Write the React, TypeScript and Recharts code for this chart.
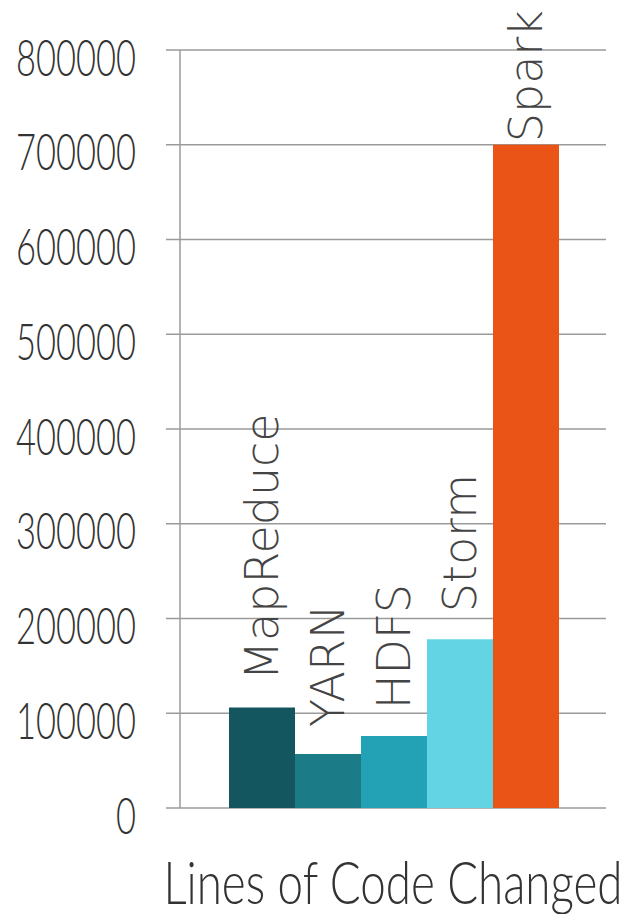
import { Bar, BarChart, CartesianGrid, LabelList, XAxis, YAxis } from 'recharts'

const categories = ['Lines of Code Changed']
const projects = ['MapReduce', 'YARN', 'HDFS', 'Storm', 'Spark']
const linesChanged = [106000, 57000, 76000, 178000, 700000]
const yTicks = [0, 100000, 200000, 300000, 400000, 500000, 600000, 700000, 800000]
const projectColors = ['#145660', '#1b7b87', '#22a2b4', '#62d4e4', '#eb5417']

const chartData = categories.map((category) => {
  const row: Record<string, string | number> = { category }
  projects.forEach((name, i) => {
    row[name] = linesChanged[i]
  })
  return row
})

const LABEL_FONT = "'DejaVu Sans', sans-serif"
const LABEL_SIZE = 46
const AXIS_FONT = 'Lato, sans-serif'

// canvas measure, used to keep the tall label inside the svg and to squeeze the axis title
function measure(text: string, font: string) {
  const ctx = document.createElement('canvas').getContext('2d')
  if (!ctx) return text.length * 30
  ctx.font = font
  return ctx.measureText(text).width
}

function barLabel(name: string) {
  return (props: any) => {
    const x = Number(props.x)
    const y = Number(props.y)
    const width = Number(props.width)
    const cx = x + width / 2
    const textW = measure(name, `200 ${LABEL_SIZE}px ${LABEL_FONT}`)
    const start = Math.max(y - 27, textW + 2)
    return (
      <text
        transform={`translate(${cx + 16}, ${start}) rotate(-90)`}
        x={0}
        y={0}
        textAnchor="start"
        fontFamily={LABEL_FONT}
        fontWeight={200}
        fontSize={LABEL_SIZE}
        fill="#444"
      >
        {name}
      </text>
    )
  }
}

function YTick(props: any) {
  const { x, y, payload } = props
  const label = String(payload.value)
  return (
    <text
      x={x}
      y={y + 6}
      textAnchor="end"
      dominantBaseline="central"
      fontFamily={AXIS_FONT}
      fontWeight={300}
      fontSize={51}
      fill="#333"
      textLength={label.length * 20}
      lengthAdjust="spacingAndGlyphs"
    >
      {label}
    </text>
  )
}

function XTick(props: any) {
  const { x, y, payload } = props
  const label = String(payload.value)
  const natural = measure(label, `300 60px ${AXIS_FONT}`)
  const sx = natural > 0 ? Math.min(1, 460 / natural) : 1
  return (
    <text
      transform={`translate(${x}, ${y + 96}) scale(${sx}, 1)`}
      x={0}
      y={0}
      textAnchor="middle"
      fontFamily={AXIS_FONT}
      fontWeight={300}
      fontSize={60}
      fill="#333"
    >
      {label}
    </text>
  )
}

export default function App() {
  return (
    <div style={{ height: 906 }}>
      <BarChart
        width={626}
        height={912}
        data={chartData}
        margin={{ top: 42, right: 28, bottom: 0, left: 0 }}
        barGap={0}
        barCategoryGap={49}
      >
        <CartesianGrid vertical={false} stroke="#9a9a9a" strokeWidth={1.5} />
        <XAxis
          dataKey="category"
          axisLine={false}
          tickLine={false}
          tickSize={0}
          tickMargin={0}
          height={112}
          tick={<XTick />}
        />
        <YAxis
          domain={[0, 800000]}
          ticks={yTicks}
          width={172}
          tickSize={14}
          tickMargin={30}
          axisLine={{ stroke: '#9a9a9a', strokeWidth: 1.5 }}
          tickLine={{ stroke: '#9a9a9a', strokeWidth: 1.5 }}
          tick={<YTick />}
          interval={0}
        />
        {projects.map((name, i) => (
          <Bar key={name} dataKey={name} fill={projectColors[i]} isAnimationActive={false}>
            <LabelList dataKey={name} content={barLabel(name)} />
          </Bar>
        ))}
      </BarChart>
    </div>
  )
}
